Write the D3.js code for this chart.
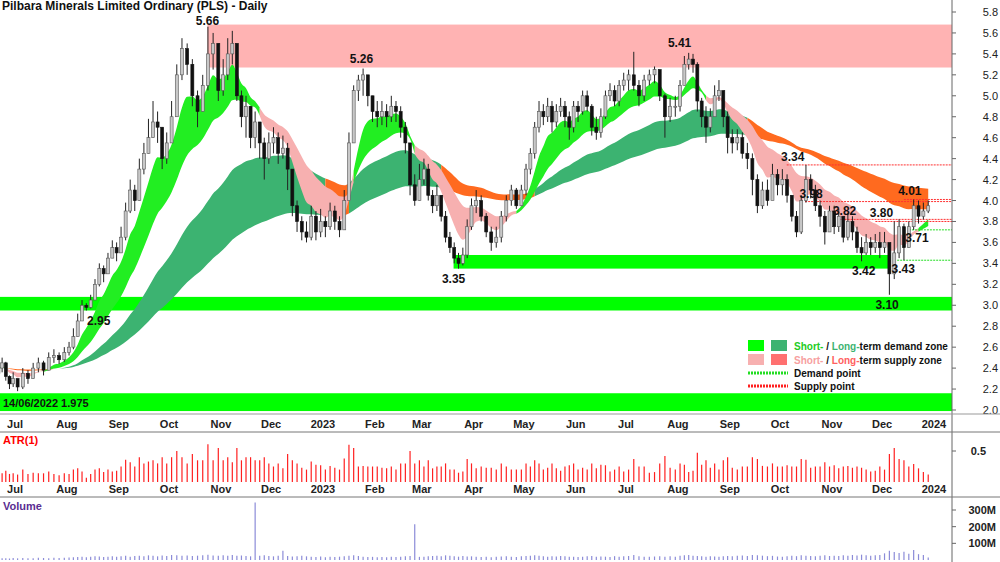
<!DOCTYPE html>
<html><head><meta charset="utf-8">
<script src="https://cdn.jsdelivr.net/npm/d3@7"></script>
<style>body{margin:0;background:#fff}svg{font-family:Arial,"Liberation Sans",sans-serif}</style>
</head><body><svg id="c" width="1000" height="562"></svg>
<script>
// ---- data (one entry per two-trading-day bar, grouped by month) ----
const monthStarts = ["2022-06-20","2022-07-01","2022-08-01","2022-09-01","2022-10-01","2022-11-01","2022-12-01","2023-01-01","2023-02-01","2023-03-01","2023-04-01","2023-05-01","2023-06-01","2023-07-01","2023-08-01","2023-09-01","2023-10-01","2023-11-01","2023-12-01","2023-12-30"];
const closes = [
[2.40,2.45,2.32,2.25,2.30],
[2.22,2.35,2.30,2.40,2.45,2.38,2.50,2.52,2.48,2.55],
[2.60,2.70,2.85,3.00,2.98,3.05,3.20,3.35,3.30,3.45,3.55,3.50],
[3.65,3.90,4.10,4.00,4.30,4.45,4.60,4.75,4.70,4.40,4.55],
[4.80,5.20,5.45,5.30,5.00,4.85,5.10,5.40,5.50,5.05],
[5.20,5.40,5.50,5.00,4.80,4.90,4.60,4.75,4.55,4.40,4.55],
[4.60,4.45,4.50,4.30,3.95,3.80,3.70,3.65,3.85,3.70,3.80],
[3.75,3.90,3.80,3.72,4.00,4.55,5.05,5.15,5.20,5.00,4.85],
[4.80,4.85,4.80,4.90,4.85,4.70,4.55,4.15,4.00,4.20],
[4.30,4.05,3.95,4.05,3.85,3.65,3.55,3.45,3.40,3.48,3.75,3.95],
[4.00,3.85,3.70,3.60,3.65,3.85,4.00,4.10,3.95,4.10],
[4.30,4.45,4.70,4.85,4.80,4.90,4.75,4.85,4.90,4.80,4.70,4.90],
[4.85,5.00,4.90,4.70,4.65,4.80,5.00,5.05,4.95,5.10,5.15],
[5.20,5.10,5.00,5.15,5.20,5.25,5.00,4.80,4.90,4.90],
[5.10,5.30,5.35,5.30,4.95,4.80,4.70,4.80,5.00,5.05,4.80,4.60],
[4.55,4.60,4.45,4.40,4.20,3.95,4.10,4.00,4.25,4.15],
[4.20,4.05,3.85,3.70,4.00,4.20,4.10,3.95,3.85,3.70,3.90],
[3.75,3.85,3.65,3.80,3.70,3.55,3.50,3.60,3.55,3.60,3.55],
[3.60,3.30,3.50,3.75,3.55,3.75,3.95,3.85,3.90,3.95]];
const highs = [
[2.48,2.50,2.46,2.33,2.36],
[2.30,2.40,2.38,2.45,2.50,2.47,2.55,2.58,2.55,2.60],
[2.65,2.78,2.92,3.05,3.02,3.10,3.25,3.40,3.38,3.50,3.62,3.60],
[3.75,3.98,4.20,4.15,4.40,4.55,4.78,4.95,4.85,4.70,4.65],
[4.95,5.30,5.55,5.50,5.35,5.05,5.20,5.66,5.60,5.50],
[5.35,5.55,5.62,5.50,5.05,5.00,4.90,4.85,4.75,4.60,4.65],
[4.70,4.65,4.62,4.55,4.20,4.00,3.85,3.80,3.95,3.90,3.92],
[3.85,3.98,3.95,3.85,4.10,4.65,5.10,5.20,5.26,5.15,5.00],
[4.95,4.95,4.92,5.00,4.95,4.90,4.75,4.55,4.25,4.35],
[4.40,4.35,4.10,4.15,4.05,3.90,3.70,3.60,3.50,3.55,3.82,4.02],
[4.10,4.05,3.88,3.75,3.75,3.90,4.05,4.15,4.12,4.15],
[4.35,4.50,4.75,4.95,4.92,4.98,4.95,4.92,4.98,4.95,4.85,4.95],
[4.95,5.05,5.05,4.92,4.80,4.88,5.05,5.12,5.10,5.15,5.22],
[5.25,5.42,5.15,5.20,5.25,5.28,5.25,5.02,4.98,5.00],
[5.15,5.38,5.41,5.40,5.32,4.98,4.90,4.88,5.10,5.15,5.05,4.85],
[4.68,4.68,4.65,4.55,4.45,4.25,4.18,4.20,4.35,4.30],
[4.30,4.25,4.05,3.90,4.05,4.34,4.25,4.15,4.00,3.90,3.95],
[3.95,3.92,3.85,3.88,3.85,3.75,3.65,3.68,3.65,3.68,3.70],
[3.70,3.55,3.80,3.82,3.78,3.80,4.01,4.00,3.98,4.00]];
const lows = [
[2.33,2.36,2.28,2.20,2.22],
[2.18,2.20,2.25,2.30,2.36,2.33,2.38,2.45,2.44,2.46],
[2.52,2.58,2.70,2.88,2.95,2.97,3.05,3.18,3.22,3.30,3.45,3.42],
[3.50,3.62,3.88,3.90,4.00,4.25,4.45,4.60,4.55,4.30,4.35],
[4.55,4.80,5.15,5.20,4.90,4.70,4.85,5.05,5.25,4.95],
[5.00,5.15,5.30,4.95,4.70,4.60,4.50,4.50,4.40,4.20,4.35],
[4.45,4.35,4.40,4.10,3.85,3.70,3.62,3.60,3.62,3.62,3.65],
[3.65,3.72,3.72,3.65,3.72,4.05,4.55,4.95,5.00,4.90,4.75],
[4.70,4.72,4.70,4.75,4.75,4.60,4.45,4.05,3.95,4.00],
[4.15,4.00,3.88,3.90,3.80,3.60,3.50,3.40,3.35,3.38,3.45,3.72],
[3.88,3.80,3.65,3.52,3.55,3.60,3.80,3.95,3.92,3.95],
[4.05,4.25,4.40,4.65,4.72,4.75,4.65,4.70,4.80,4.70,4.58,4.65],
[4.75,4.82,4.85,4.62,4.58,4.60,4.78,4.95,4.90,4.90,5.05],
[5.05,5.05,4.90,4.95,5.10,5.12,4.95,4.60,4.75,4.80],
[4.85,5.10,5.25,5.22,4.85,4.70,4.55,4.65,4.80,4.95,4.70,4.45],
[4.45,4.48,4.40,4.30,4.05,3.88,3.92,3.95,4.05,4.05],
[4.05,3.98,3.80,3.65,3.68,3.98,4.02,3.90,3.75,3.58,3.70],
[3.68,3.70,3.60,3.62,3.62,3.50,3.42,3.48,3.48,3.50,3.45],
[3.50,3.10,3.25,3.45,3.43,3.55,3.72,3.78,3.82,3.88]];
const volumes = [
[12,10,11,9,12],
[10,12,11,10,13,12,11,14,12,13],
[15,16,18,20,17,19,22,21,18,20,22,19],
[22,25,20,24,26,23,28,25,22,27,24],
[30,28,25,27,24,26,29,31,27,25],
[28,26,30,25,27,24,22,345,25,28,24],
[22,26,55,24,21,23,25,22,20,18,21],
[17,19,18,20,22,25,28,24,20,18,19],
[16,18,17,19,18,20,22,24,215,19],
[20,22,24,26,23,28,25,22,20,24,21,22],
[19,18,20,17,19,21,23,20,18,22],
[24,26,28,25,22,20,23,21,24,22,20,19],
[18,20,22,24,19,21,20,18,23,19,22],
[24,30,22,20,19,21,23,20,22,19],
[25,28,30,26,24,22,20,23,21,19,22,24],
[22,25,27,24,30,28,26,23,25,21],
[20,22,25,23,28,26,24,22,25,28,24],
[26,24,28,25,30,27,32,29,26,28,30],
[40,55,48,42,50,38,60,35,30,15]];
const priceTicks = [5.8,5.6,5.4,5.2,5.0,4.8,4.6,4.4,4.2,4.0,3.8,3.6,3.4,3.2,3.0,2.8,2.6,2.4,2.2,2.0];
const monthLabels = ["Jul","Aug","Sep","Oct","Nov","Dec","2023","Feb","Mar","Apr","May","Jun","Jul","Aug","Sep","Oct","Nov","Dec","2024"];
const monthTickDates = ["2022-07-01","2022-08-01","2022-09-01","2022-10-01","2022-11-01","2022-12-01","2023-01-01","2023-02-01","2023-03-01","2023-04-01","2023-05-01","2023-06-01","2023-07-01","2023-08-01","2023-09-01","2023-10-01","2023-11-01","2023-12-01","2024-01-01"];
const supplyZones = [["2022-10-24",5.27,5.68]];
const demandZones = [["2022-06-01",2.95,3.08],["2022-06-01",1.99,2.16],["2023-03-20",3.35,3.48,"2023-12-06"]];
const supplyPoints = [["2023-10-05",4.34,"3.34"],["2023-10-16",3.99,"3.98"],["2023-11-05",3.82,"3.82"],["2023-11-27",3.80,"3.80"],["2023-12-14",4.01,"4.01"]];
const demandPoints = [["2023-12-17",3.72,"3.71"],["2023-12-10",3.43,"3.43"]];
const peakLabels = [["2022-10-24",5.66,"5.66",-2],["2023-01-24",5.26,"5.26",-6],["2023-08-02",5.41,"5.41",-6],["2022-08-20",2.95,"2.95",14],["2023-03-20",3.35,"3.35",14],["2023-11-20",3.42,"3.42",14],["2023-12-04",3.10,"3.10",14]];
const shortPeriods = [7, 9, 11, 13, 15, 18];
const longPeriods = [40, 48, 56, 64, 72, 80];

const parse = d3.timeParse("%Y-%m-%d");
const bars = [];
closes.forEach((m, mi) => {
  const s = parse(monthStarts[mi]), e = parse(monthStarts[mi + 1]);
  m.forEach((c, k) => {
    bars.push({date: new Date(+s + (k + 0.5) / m.length * (e - s)), c, h: highs[mi][k], l: lows[mi][k], v: volumes[mi][k]});
  });
});
bars.forEach((b, i) => { b.o = i ? bars[i - 1].c : b.c - 0.05; b.atr = b.h - b.l; });

function ema(n) { const a = 2 / (n + 1); let p = bars[0].c; return bars.map(b => (p = p + a * (b.c - p))); }
const shortE = shortPeriods.map(ema), longE = longPeriods.map(ema);
bars.forEach((b, i) => {
  const s = shortE.map(e => e[i]), l = longE.map(e => e[i]);
  b.s0 = d3.min(s); b.s1 = d3.max(s); b.l0 = d3.min(l); b.l1 = d3.max(l);
  b.sUp = shortE[0][i] >= shortE[shortE.length - 1][i];
  b.lUp = b.s0 >= b.l0;
});

const svg = d3.select("#c");
const R = 952;
const x = d3.scaleTime().domain([parse("2022-07-01"), parse("2024-01-01")]).range([15, 934]);
const y = d3.scaleLinear().domain([2.0, 5.8]).range([410, 12]);
const yA = d3.scaleLinear().domain([0, 0.5]).range([482, 451]);
const yV = d3.scaleLinear().domain([0, 300]).range([560, 510]);

svg.append("clipPath").attr("id", "cp").append("rect").attr("x", 0).attr("y", 0).attr("width", R).attr("height", 414);
const g = svg.append("g").attr("clip-path", "url(#cp)");

supplyZones.forEach(z => g.append("rect").attr("x", x(parse(z[0]))).attr("width", R - x(parse(z[0])))
  .attr("y", y(z[2])).attr("height", y(z[1]) - y(z[2])).attr("fill", "#ffb3b3"));
demandZones.forEach(z => { const x0 = x(parse(z[0])), x1 = z[3] ? x(parse(z[3])) : R;
  g.append("rect").attr("x", x0).attr("width", x1 - x0).attr("y", y(z[2])).attr("height", y(z[1]) - y(z[2])).attr("fill", "#00ff00"); });

function ribbon(lo, hi, key, cUp, cDn) {
  let i = 0;
  while (i < bars.length - 1) {
    let j = i; const st = bars[i][key];
    while (j < bars.length - 1 && bars[j][key] === st) j++;
    const seg = bars.slice(i, j + 1);
    g.append("path").datum(seg).attr("fill", st ? cUp : cDn)
      .attr("d", d3.area().x(d => x(d.date)).y0(d => y(d[lo])).y1(d => y(d[hi])).curve(d3.curveMonotoneX));
    i = j;
  }
}
ribbon("l0", "l1", "lUp", "#3cb371", "#ff6a1f");
ribbon("s0", "s1", "sUp", "#22ee22", "#f7b0b0");

supplyPoints.forEach(p => g.append("line").attr("x1", x(parse(p[0]))).attr("x2", R).attr("y1", y(p[1])).attr("y2", y(p[1]))
  .attr("stroke", "#ff3030").attr("stroke-dasharray", "2,1").attr("stroke-width", 1));
demandPoints.forEach(p => g.append("line").attr("x1", x(parse(p[0]))).attr("x2", R).attr("y1", y(p[1])).attr("y2", y(p[1]))
  .attr("stroke", "#22dd22").attr("stroke-dasharray", "2,1").attr("stroke-width", 1));

const cg = g.append("g");
bars.forEach(b => {
  const cx = x(b.date);
  cg.append("line").attr("x1", cx).attr("x2", cx).attr("y1", y(b.h)).attr("y2", y(b.l)).attr("stroke", "#222");
  const up = b.c >= b.o, top = y(Math.max(b.c, b.o)), bot = y(Math.min(b.c, b.o));
  cg.append("rect").attr("x", cx - 1.5).attr("width", 3).attr("y", top).attr("height", Math.max(1, bot - top))
    .attr("fill", up ? "#c8c8c8" : "#111").attr("stroke", up ? "#555" : "#111").attr("stroke-width", 0.6);
});

const lab = (xx, yy, t, col, anchor) => svg.append("text").attr("x", xx).attr("y", yy).text(t)
  .attr("font-size", 12).attr("font-weight", "bold").attr("fill", col || "#111").attr("text-anchor", anchor || "middle");
peakLabels.forEach(p => lab(x(parse(p[0])), y(p[1]) + p[3], p[2]));
supplyPoints.forEach(p => lab(x(parse(p[0])) + 6, y(p[1]) - 4, p[2]));
lab(x(parse("2023-12-17")) + 8, y(3.72) + 12, "3.71");
lab(x(parse("2023-12-10")) + 6, y(3.43) + 13, "3.43");
lab(2, 10, "Pilbara Minerals Limited Ordinary (PLS) - Daily", "#111", "start");
lab(3, 407, "14/06/2022 1.975", "#111", "start").attr("font-size", 11);

const lg = svg.append("g").attr("font-size", 10).attr("font-weight", "bold");
const legRows = [[346, "#00ff00", "#3cb371", "#22cc22", "#3cb371", " demand zone"], [360, "#f7b0b0", "#ff7070", "#f7a0a0", "#ff6060", " supply zone"]];
legRows.forEach(r => {
  lg.append("rect").attr("x", 748).attr("y", r[0] - 6).attr("width", 16).attr("height", 11).attr("fill", r[1]);
  lg.append("rect").attr("x", 771).attr("y", r[0] - 6).attr("width", 16).attr("height", 11).attr("fill", r[2]);
  const t = lg.append("text").attr("x", 794).attr("y", r[0] + 4);
  t.append("tspan").attr("fill", r[3]).text("Short-");
  t.append("tspan").attr("fill", "#111").text(" / ");
  t.append("tspan").attr("fill", r[4]).text("Long-");
  t.append("tspan").attr("fill", "#111").text("term" + r[5]);
});
[[373, "#22dd22", "Demand point"], [386, "#ff2020", "Supply point"]].forEach(r => {
  lg.append("line").attr("x1", 748).attr("x2", 788).attr("y1", r[0]).attr("y2", r[0]).attr("stroke", r[1]).attr("stroke-width", 3).attr("stroke-dasharray", "2,1");
  lg.append("text").attr("x", 794).attr("y", r[0] + 4).attr("fill", "#111").text(r[2]);
});

svg.append("line").attr("x1", R).attr("x2", R).attr("y1", 0).attr("y2", 562).attr("stroke", "#666");
priceTicks.forEach(t => {
  svg.append("line").attr("x1", R).attr("x2", R + 4).attr("y1", y(t)).attr("y2", y(t)).attr("stroke", "#666");
  svg.append("text").attr("x", 998).attr("y", y(t) + 4).attr("text-anchor", "end").attr("font-size", 11).attr("fill", "#222").text(t.toFixed(1));
});
[414, 432, 497].forEach(v => svg.append("line").attr("x1", 0).attr("x2", 1000).attr("y1", v).attr("y2", v).attr("stroke", v === 414 ? "#999" : "#777"));
[424, 489].forEach(ry => monthTickDates.forEach((d, i) => {
  svg.append("text").attr("x", x(parse(d))).attr("y", ry + 4).attr("text-anchor", "middle").attr("font-size", 11).attr("font-weight", "bold").attr("fill", "#222").text(monthLabels[i]);
}));

svg.append("text").attr("x", 3).attr("y", 444).text("ATR(1)").attr("fill", "#ff0000").attr("font-size", 11).attr("font-weight", "bold");
bars.forEach(b => svg.append("line").attr("x1", x(b.date)).attr("x2", x(b.date)).attr("y1", yA(0)).attr("y2", yA(b.atr)).attr("stroke", "#ff2020").attr("stroke-width", 1.2));
svg.append("line").attr("x1", R).attr("x2", R + 4).attr("y1", yA(0.5)).attr("y2", yA(0.5)).attr("stroke", "#666");
svg.append("text").attr("x", 986).attr("y", yA(0.5) + 4).attr("text-anchor", "end").attr("font-size", 11).attr("font-weight", "bold").attr("fill", "#222").text("0.5");

svg.append("text").attr("x", 3).attr("y", 510).text("Volume").attr("fill", "#5a2d91").attr("font-size", 11).attr("font-weight", "bold");
bars.forEach(b => svg.append("line").attr("x1", x(b.date)).attr("x2", x(b.date)).attr("y1", yV(0)).attr("y2", yV(b.v)).attr("stroke", "#8c8cd8").attr("stroke-width", 1.2));
[300, 200, 100].forEach(t => {
  svg.append("line").attr("x1", R).attr("x2", R + 4).attr("y1", yV(t)).attr("y2", yV(t)).attr("stroke", "#666");
  svg.append("text").attr("x", 996).attr("y", yV(t) + 4).attr("text-anchor", "end").attr("font-size", 11).attr("font-weight", "bold").attr("fill", "#222").text(t + "M");
});
</script></body></html>
